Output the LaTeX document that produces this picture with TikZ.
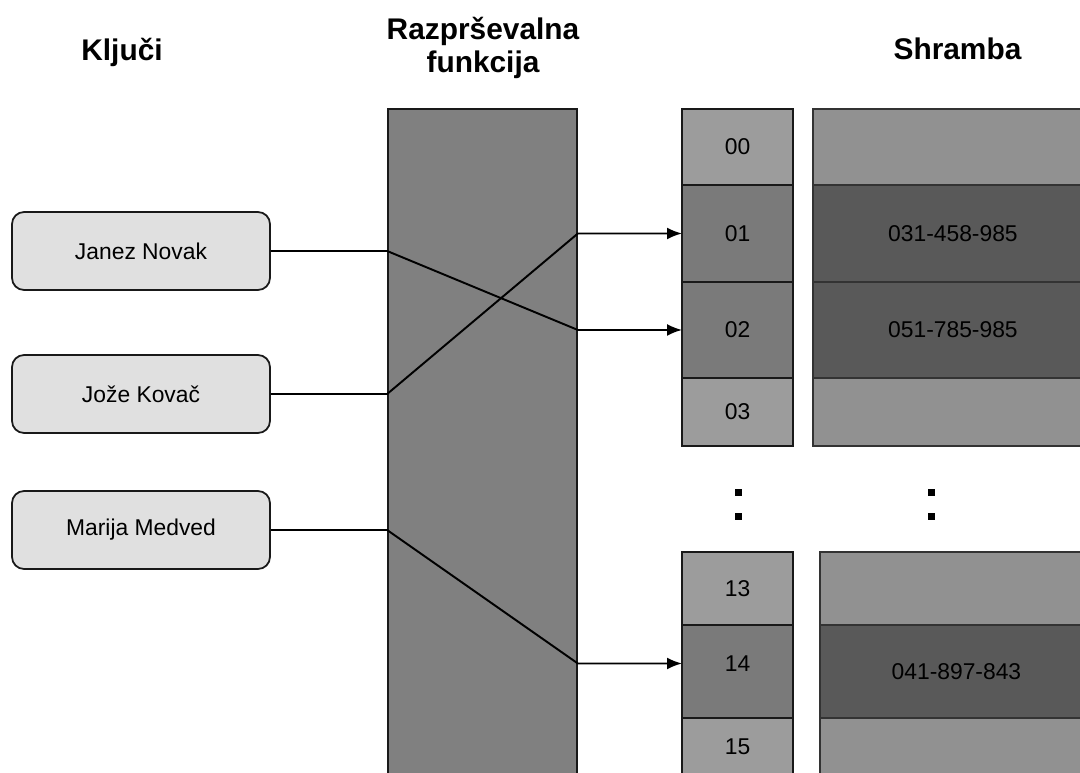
\documentclass[tikz,border=0pt]{standalone}
\usepackage{fontspec}
\setmainfont{Liberation Sans}
\usetikzlibrary{positioning,arrows.meta}
\definecolor{keyfill}{HTML}{E0E0E0}
\definecolor{hashfill}{HTML}{808080}
\definecolor{bktlight}{HTML}{9C9C9C}
\definecolor{bktdark}{HTML}{7A7A7A}
\definecolor{strlight}{HTML}{919191}
\definecolor{strdark}{HTML}{595959}
\tikzset{title/.style={font=\bfseries\fontsize{17}{18.5}\selectfont,align=center}}
\tikzset{key/.style={draw=black!90,line width=1pt,rounded corners=0.24cm,fill=keyfill,minimum width=5.16cm,minimum height=1.56cm,font=\fontsize{13}{15}\selectfont}}
\tikzset{cell/.style={draw=black!90,line width=1pt,inner sep=0pt,outer sep=0pt,minimum width=2.22cm,font=\fontsize{13}{15}\selectfont}}
\tikzset{slot/.style={draw=black!80,line width=0.9pt,inner sep=0pt,outer sep=0pt,font=\fontsize{13}{15}\selectfont}}
\tikzset{link/.style={line width=1.1pt,-{Latex[length=8.5pt,width=6.8pt]}}}

\begin{document}
\begin{tikzpicture}[x=0.02cm,y=-0.02cm]
  \useasboundingbox (0,0) rectangle (1080,772);
  % naslovi
  \node[title] (tkey) at (122,52) {Ključi};
  \node[title] (thash) at (483,48) {Razprševalna\\funkcija};
  \node[title] (tstore) at (957.5,49) {Shramba};
  % razprsevalna funkcija
  \node[draw=black!90,line width=1pt,fill=hashfill,minimum width=3.78cm,minimum height=13.64cm,anchor=north] (hash) at (482.5,108) {};
  % kljuci
  \node[key] (jn) at (141,251) {Janez Novak};
  \node[key] (jk) at (141,394) {Jože Kovač};
  \node[key] (mm) at (141,530) {Marija Medved};
  % indeksi
  \node[cell,fill=bktlight,minimum height=1.52cm] (b00) at (737.5,147) {00};
  \node[cell,fill=bktdark,minimum height=1.94cm,below=0pt of b00] (b01) {01};
  \node[cell,fill=bktdark,minimum height=1.92cm,below=0pt of b01] (b02) {02};
  \node[cell,fill=bktlight,minimum height=1.36cm,below=0pt of b02] (b03) {03};
  \node[cell,fill=bktlight,minimum height=1.46cm] (b13) at (737.5,588.5) {13};
  \node[cell,fill=bktdark,minimum height=1.86cm,text depth=9pt,below=0pt of b13] (b14) {14};
  \node[cell,fill=bktlight,minimum height=1.16cm,below=0pt of b14] (b15) {15};
  % shramba
  \node[slot,fill=strlight,minimum width=5.6cm,minimum height=1.52cm,right=0.4cm of b00] (s00) {};
  \node[slot,fill=strdark,minimum width=5.6cm,minimum height=1.94cm,right=0.4cm of b01] (s01) {031-458-985};
  \node[slot,fill=strdark,minimum width=5.6cm,minimum height=1.92cm,right=0.4cm of b02] (s02) {051-785-985};
  \node[slot,fill=strlight,minimum width=5.6cm,minimum height=1.36cm,right=0.4cm of b03] (s03) {};
  \node[slot,fill=strlight,minimum width=5.46cm,minimum height=1.46cm,right=0.54cm of b13] (s13) {};
  \node[slot,fill=strdark,minimum width=5.46cm,minimum height=1.86cm,right=0.54cm of b14] (s14) {041-897-843};
  \node[slot,fill=strlight,minimum width=5.46cm,minimum height=1.16cm,right=0.54cm of b15] (s15) {};
  % pike
  \foreach \x in {738,931}
    \foreach \y in {492,516}
      \fill (\x-3.5,\y-3.5) rectangle +(7,7);
  % povezave
  \draw[link] (jn.east) -- (jn.east -| hash.west) -- (b02.west -| hash.east) -- (b02.west);
  \draw[link] (jk.east) -- (jk.east -| hash.west) -- (b01.west -| hash.east) -- (b01.west);
  \draw[link] (mm.east) -- (mm.east -| hash.west) -- ([yshift=0.16cm]b14.west -| hash.east) -- ([yshift=0.16cm]b14.west);
\end{tikzpicture}
\end{document}
